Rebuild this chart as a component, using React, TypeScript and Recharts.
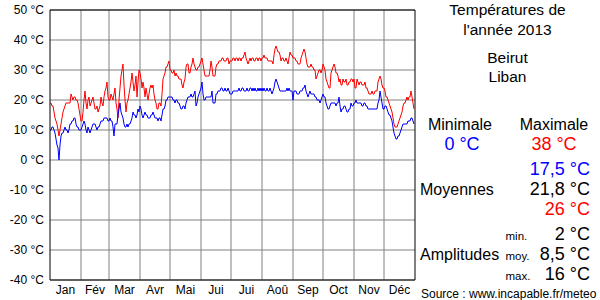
import { LineChart, Line, XAxis, YAxis, CartesianGrid, ReferenceLine } from "recharts";

const months = ["Jan", "Fév", "Mar", "Avr", "Mai", "Jui", "Jui", "Aoû", "Sep", "Oct", "Nov", "Déc"];
const monthStarts = [0, 31, 59, 90, 120, 151, 181, 212, 243, 273, 304, 334, 365];
const tempTicks = [-40, -30, -20, -10, 0, 10, 20, 30, 40, 50];

// températures journalières 2013, une valeur par jour
const minTemps = [
  // jan
  10, 10, 11, 11, 10, 9, 7, 5, 4, 0, 5, 8, 9, 9, 10, 11, 10, 10, 9, 10, 12, 12, 13, 13, 14, 14, 12, 11, 11, 10, 10,
  // fév
  10, 11, 12, 13, 12, 10, 9, 11, 10, 9, 10, 11, 12, 12, 12, 11, 10, 11, 11, 12, 13, 13, 13, 14, 14, 14, 14, 13,
  // mar
  13, 14, 13, 13, 11, 8, 12, 12, 12, 15, 17, 19, 16, 15, 14, 12, 11, 11, 12, 11, 12, 12, 13, 14, 16, 15, 15, 14, 15, 17, 16,
  // avr
  18, 17, 15, 14, 15, 16, 15, 15, 14, 14, 14, 15, 15, 16, 15, 14, 14, 14, 13, 14, 14, 13, 15, 17, 17, 18, 20, 20, 21, 21,
  // mai
  21, 21, 21, 20, 20, 19, 20, 20, 19, 19, 18, 17, 17, 18, 18, 17, 19, 20, 21, 21, 21, 22, 21, 21, 22, 23, 18, 19, 21, 22, 23,
  // juin
  24, 26, 22, 20, 20, 21, 21, 21, 21, 21, 21, 23, 19, 19, 19, 22, 22, 23, 23, 23, 24, 24, 23, 23, 24, 23, 23, 24, 23, 22,
  // juil
  22, 22, 23, 23, 23, 23, 23, 23, 24, 23, 23, 24, 24, 23, 23, 23, 24, 23, 23, 24, 24, 23, 24, 23, 24, 23, 23, 24, 23, 24, 23,
  // août
  24, 23, 24, 23, 23, 24, 23, 23, 24, 23, 22, 23, 24, 26, 27, 26, 25, 24, 23, 23, 23, 23, 23, 23, 23, 24, 23, 24, 23, 23, 23,
  // sep
  20, 23, 23, 23, 22, 22, 22, 23, 23, 23, 24, 24, 25, 23, 22, 21, 22, 23, 22, 22, 22, 22, 21, 21, 20, 20, 20, 19, 20, 21,
  // oct
  22, 21, 21, 19, 18, 17, 17, 18, 19, 19, 19, 19, 19, 18, 19, 19, 21, 18, 16, 17, 17, 18, 18, 17, 16, 16, 17, 17, 19, 18, 18,
  // nov
  19, 19, 20, 19, 19, 19, 19, 19, 18, 18, 19, 19, 18, 18, 17, 17, 17, 17, 17, 17, 17, 17, 17, 17, 19, 20, 23, 21, 19, 17,
  // déc
  17, 18, 18, 17, 16, 15, 15, 14, 13, 11, 9, 8, 7, 7, 8, 8, 9, 10, 11, 12, 12, 12, 12, 12, 13, 13, 13, 14, 14, 13, 12,
];

const maxTemps = [
  // jan
  19, 19, 18, 18, 16, 14, 13, 12, 10, 8, 10, 12, 14, 16, 17, 18, 19, 19, 19, 19, 19, 22, 21, 20, 21, 21, 20, 20, 19, 17, 15,
  // fév
  13, 13, 16, 20, 23, 19, 17, 20, 21, 18, 19, 20, 21, 19, 17, 17, 18, 16, 17, 18, 21, 19, 18, 21, 23, 24, 26, 21,
  // mar
  20, 20, 22, 21, 20, 22, 24, 19, 17, 14, 20, 24, 28, 30, 32, 25, 20, 16, 19, 20, 22, 24, 26, 29, 26, 23, 25, 28, 21, 26, 30,
  // avr
  29, 27, 24, 26, 24, 21, 24, 22, 20, 22, 24, 25, 24, 25, 22, 20, 19, 17, 17, 19, 19, 18, 22, 27, 28, 29, 31, 31, 32, 33,
  // mai
  30, 30, 29, 29, 30, 28, 29, 28, 28, 27, 27, 27, 25, 24, 26, 27, 31, 32, 32, 29, 29, 31, 32, 34, 32, 31, 30, 30, 31, 31, 32,
  // juin
  33, 34, 32, 30, 28, 28, 28, 28, 28, 30, 33, 31, 28, 28, 28, 31, 32, 32, 33, 33, 33, 34, 34, 33, 33, 33, 34, 34, 32, 33,
  // juil
  33, 33, 34, 34, 33, 34, 34, 33, 34, 34, 33, 34, 34, 35, 36, 34, 33, 32, 33, 34, 33, 34, 34, 33, 33, 34, 34, 33, 34, 34, 33,
  // août
  34, 34, 35, 34, 34, 34, 33, 33, 33, 33, 33, 32, 35, 37, 38, 37, 36, 36, 35, 33, 34, 34, 33, 33, 34, 33, 32, 34, 36, 35, 35,
  // sep
  34, 34, 34, 33, 33, 32, 32, 32, 34, 35, 36, 37, 36, 34, 32, 31, 31, 31, 32, 31, 31, 30, 30, 27, 28, 29, 30, 30, 29, 30,
  // oct
  32, 31, 30, 27, 26, 25, 24, 24, 29, 30, 31, 32, 31, 29, 29, 28, 26, 27, 25, 25, 27, 26, 26, 27, 25, 25, 26, 26, 27, 27, 26,
  // nov
  27, 24, 24, 27, 26, 25, 26, 26, 25, 25, 25, 26, 24, 24, 23, 22, 22, 22, 23, 22, 22, 23, 23, 23, 26, 27, 28, 27, 25, 24,
  // déc
  24, 23, 21, 21, 20, 19, 18, 17, 16, 14, 12, 11, 11, 11, 12, 13, 14, 15, 16, 18, 19, 19, 20, 21, 20, 21, 21, 23, 21, 19, 17,
];

const data = minTemps.map((min, i) => ({ day: i, min, max: maxTemps[i] }));
const monthMids = months.map((_, i) => (monthStarts[i] + monthStarts[i + 1]) / 2);

const FONT = "'Liberation Sans', Arial, sans-serif";
const BLUE = "#0000ff";
const RED = "#ff0000";
const GRID = "#808080";

function SidePanel() {
  return (
    <svg
      width={600}
      height={300}
      style={{ position: "absolute", left: 0, top: 0, pointerEvents: "none" }}
      fontFamily={FONT}
    >
      <g textAnchor="middle" fontSize={15.5} fill="#000">
        <text x={507.5} y={15}>Températures de</text>
        <text x={507.5} y={35}>l'année 2013</text>
        <text x={507.5} y={62.5}>Beirut</text>
        <text x={507.5} y={82}>Liban</text>
      </g>
      <g textAnchor="middle" fontSize={16}>
        <text x={460} y={130}>Minimale</text>
        <text x={554} y={130}>Maximale</text>
      </g>
      <g textAnchor="middle" fontSize={18}>
        <text x={462} y={149.5} fill={BLUE}>0 °C</text>
        <text x={554} y={149.5} fill={RED}>38 °C</text>
      </g>
      <text x={420} y={195} fontSize={16}>Moyennes</text>
      <g textAnchor="end" fontSize={18}>
        <text x={590} y={175} fill={BLUE}>17,5 °C</text>
        <text x={590} y={195}>21,8 °C</text>
        <text x={590} y={215} fill={RED}>26 °C</text>
      </g>
      <text x={420} y={260} fontSize={16}>Amplitudes</text>
      <g fontSize={11.5}>
        <text x={505.5} y={240}>min.</text>
        <text x={505.5} y={260}>moy.</text>
        <text x={505.5} y={280}>max.</text>
      </g>
      <g textAnchor="end" fontSize={18}>
        <text x={590} y={240}>2 °C</text>
        <text x={590} y={260}>8,5 °C</text>
        <text x={590} y={280}>16 °C</text>
      </g>
      <text x={421} y={298} fontSize={12}>Source : www.incapable.fr/meteo</text>
    </svg>
  );
}

export default function App() {
  return (
    <div style={{ position: "relative", width: 600, height: 300, fontFamily: FONT, background: "#fff" }}>
      <style>{"body{margin:0}"}</style>
      <LineChart width={600} height={300} data={data} margin={{ top: 10, right: 185, bottom: 0, left: 0 }}>
        <CartesianGrid vertical={false} stroke={GRID} />
        {monthStarts.slice(1, -1).map((d) => (
          <ReferenceLine key={d} x={d} stroke={GRID} />
        ))}
        <XAxis
          dataKey="day"
          type="number"
          domain={[0, 365]}
          ticks={monthMids}
          interval={0}
          tickFormatter={(v: number) => months[monthMids.indexOf(v)]}
          tick={{ fill: "#000", fontSize: 12 }}
          tickLine={false}
          tickSize={0}
          tickMargin={5}
          axisLine={{ stroke: "#000" }}
          height={20}
        />
        <YAxis
          type="number"
          domain={[-40, 50]}
          ticks={tempTicks}
          interval={0}
          tickFormatter={(v: number) => `${v} °C`}
          tick={{ fill: "#000", fontSize: 12 }}
          tickLine={false}
          tickSize={0}
          tickMargin={6}
          axisLine={{ stroke: "#000" }}
          width={50}
        />
        <ReferenceLine y={50} stroke="#000" />
        <ReferenceLine x={365} stroke="#000" />
        <Line
          type="linear"
          dataKey="max"
          stroke={RED}
          strokeWidth={1}
          dot={false}
          activeDot={false}
          isAnimationActive={false}
        />
        <Line
          type="linear"
          dataKey="min"
          stroke={BLUE}
          strokeWidth={1}
          dot={false}
          activeDot={false}
          isAnimationActive={false}
        />
      </LineChart>
      <SidePanel />
    </div>
  );
}
